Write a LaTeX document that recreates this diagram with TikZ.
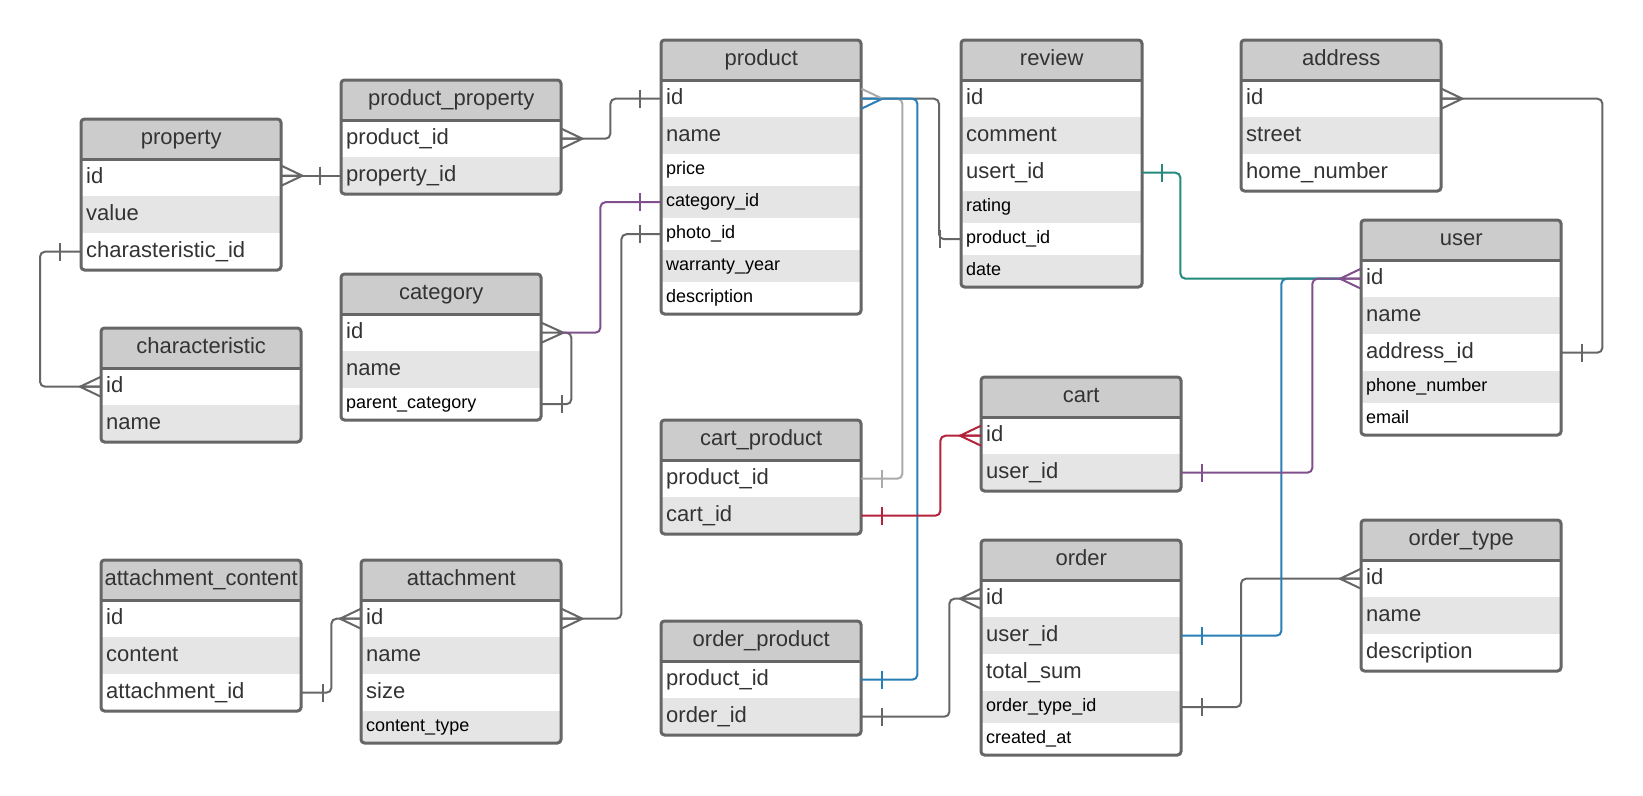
\documentclass[tikz,border=0pt]{standalone}
\usepackage{fontspec}
\setmainfont{Liberation Sans}
\usetikzlibrary{calc}
\definecolor{bordc}{HTML}{666666}
\definecolor{hdrgray}{HTML}{CCCCCC}
\definecolor{altgray}{HTML}{E5E5E5}
\definecolor{txt}{HTML}{333333}
\definecolor{cgray}{HTML}{666666}
\definecolor{clgray}{HTML}{AAAAAA}
\definecolor{cblue}{RGB}{41,126,182}
\definecolor{cteal}{RGB}{36,138,126}
\definecolor{cpurp}{RGB}{128,80,140}
\definecolor{cred}{RGB}{180,35,60}
\def\hL{37}\def\hS{32}
\def\thL{16}\def\thS{13}
\def\fL{\fontsize{22}{26}\selectfont\color{txt}}
\def\fS{\fontsize{18}{22}\selectfont\color{black}}
\newcommand\ertab[6]{%
  \pgfmathsetmacro\tw{#4-10}%
  \node[hdr, minimum width=#4pt] (#1) at (#2,#3) {#5};
  \xdef\cy{\the\numexpr#3+40\relax}%
  \foreach \rt/\rs [count=\ri] in {#6}{%
    \ifodd\ri\relax\def\rf{white}\else\def\rf{altgray}\fi
    \node[cell, fill=\rf, minimum width=#4pt, text width=\tw pt,
          minimum height=\csname h\rs\endcsname pt, font=\csname f\rs\endcsname,
          text height=\csname th\rs\endcsname pt] (#1-\ri) at (#2,\cy) {\rt};
    \xdef\cy{\the\numexpr\cy+\csname h\rs\endcsname\relax}%
  }%
  \draw[border, rounded corners=3.5pt] (#2,#3) rectangle (#2+#4,\cy);
  \draw[border] (#2,#3+40) -- (#2+#4,#3+40);
}
\newcommand\crow[3]{\draw[#3, sharp corners] (#1) ++(0,-10) -- ++(#2,10) -- ++({-1*(#2)},10) (#1) -- ++(#2,0);}
\newcommand\onebar[3]{\draw[#3, sharp corners] (#1) ++(#2,-9) -- ++(0,18);}
\begin{document}
\begin{tikzpicture}[x=1pt,y=-1pt,
  hdr/.style={anchor=north west, fill=hdrgray, minimum height=40pt, inner sep=0pt,
    text height=16pt, text depth=5pt, font=\fontsize{22}{26}\selectfont, text=txt},
  cell/.style={anchor=north west, inner xsep=5pt, inner ysep=0pt, align=left, text depth=5pt},
  border/.style={draw=bordc, line width=3pt},
  conn/.style={line width=2pt, rounded corners=5pt},
  cg/.style={conn, draw=cgray},
  clg/.style={conn, draw=clgray},
  cb/.style={conn, draw=cblue},
  ct/.style={conn, draw=cteal},
  cp/.style={conn, draw=cpurp},
  cr/.style={conn, draw=cred}]
\fill[white] (0,0) rectangle (1643,795);
\useasboundingbox (0,0) rectangle (1643,795);

% ---------- connectors (drawn below tables) ----------
% tables first so anchors exist
\ertab{property}{81}{119}{200}{property}{id/L, value/L, charasteristic\_id/L}
\ertab{pp}{341}{80}{220}{product\_property}{product\_id/L, property\_id/L}
\ertab{category}{341}{274}{200}{category}{id/L, name/L, parent\_category/S}
\ertab{characteristic}{101}{328}{200}{characteristic}{id/L, name/L}
\ertab{product}{661}{40}{200}{product}{id/L, name/L, price/S, category\_id/S, photo\_id/S, warranty\_year/S, description/S}
\ertab{review}{961}{40}{181}{review}{id/L, comment/L, usert\_id/L, rating/S, product\_id/S, date/S}
\ertab{address}{1241}{40}{200}{address}{id/L, street/L, home\_number/L}
\ertab{user}{1361}{220}{200}{user}{id/L, name/L, address\_id/L, phone\_number/S, email/S}
\ertab{cp}{661}{420}{200}{cart\_product}{product\_id/L, cart\_id/L}
\ertab{cart}{981}{377}{200}{cart}{id/L, user\_id/L}
\ertab{op}{661}{621}{200}{order\_product}{product\_id/L, order\_id/L}
\ertab{order}{981}{540}{200}{order}{id/L, user\_id/L, total\_sum/L, order\_type\_id/S, created\_at/S}
\ertab{ot}{1361}{520}{200}{order\_type}{id/L, name/L, description/L}
\ertab{ac}{101}{560}{200}{attachment\_content}{id/L, content/L, attachment\_id/L}
\ertab{attachment}{361}{560}{200}{attachment}{id/L, name/L, size/L, content\_type/S}

% property.id -- product_property.property_id
\coordinate (propId) at (property-1.east |- pp-2.west);
\draw[cg] (propId) -- (pp-2.west);
\crow{propId}{21}{cg}
\onebar{pp-2.west}{-21}{cg}

% product_property.product_id -- product.id
\draw[cg] (pp-1.east) -- ++(49,0) |- (product-1.west);
\crow{pp-1.east}{21}{cg}
\onebar{product-1.west}{-21}{cg}

% category self loop
\draw[cg] ([xshift=22pt]category-1.east) -- ++(8,0) |- (category-3.east);
\crow{category-1.east}{22}{cg}
\onebar{category-3.east}{21}{cg}

% category.id -- product.category_id
\draw[cp] ([xshift=22pt]category-1.east) -- ++(37,0) |- (product-4.west);
\onebar{product-4.west}{-21}{cp}

% property.charasteristic_id -- characteristic.id
\draw[cg] (property-3.west) -- ++(-41,0) |- (characteristic-1.west);
\onebar{property-3.west}{-21}{cg}
\crow{characteristic-1.west}{-21}{cg}

% attachment_content.attachment_id -- attachment.id
\draw[cg] (ac-3.east) -- ++(30,0) |- (attachment-1.west);
\onebar{ac-3.east}{22}{cg}
\crow{attachment-1.west}{-21}{cg}

% attachment.id -- product.photo_id
\draw[cg] (attachment-1.east) -- ++(60,0) |- (product-5.west);
\crow{attachment-1.east}{21}{cg}
\onebar{product-5.west}{-21}{cg}

% review.product_id -- product.id
\draw[cg] (review-5.west) -- ++(-22,0) |- (product-1.east);
\onebar{review-5.west}{-21}{cg}
% cart_product.product_id -- product.id
\draw[clg] (cp-1.east) -- ++(41,0) |- (product-1.east);
\onebar{cp-1.east}{21}{clg}
% order_product.product_id -- product.id
\draw[cb] (op-1.east) -- ++(56,0) |- (product-1.east);
\onebar{op-1.east}{21}{cb}
\draw[clg, sharp corners] (product-1.east) ++(0,-10) -- ++(21,10);
\draw[cb, sharp corners] (product-1.east) ++(0,10) -- ++(21,-10);

% cart_product.cart_id -- cart.id
\draw[cr] (cp-2.east) -- ++(79,0) |- (cart-1.west);
\onebar{cp-2.east}{21}{cr}
\crow{cart-1.west}{-21}{cr}

% order_product.order_id -- order.id
\draw[cg] (op-2.east) -- ++(88,0) |- (order-1.west);
\onebar{op-2.east}{21}{cg}
\crow{order-1.west}{-21}{cg}

% address.id -- user.address_id
\draw[cg] (address-1.east) -- ++(161,0) |- (user-3.east);
\crow{address-1.east}{21}{cg}
\onebar{user-3.east}{21}{cg}

% order_type.id -- order.order_type_id
\draw[cg] (ot-1.west) -- ++(-120,0) |- (order-4.east);
\crow{ot-1.west}{-21}{cg}
\onebar{order-4.east}{21}{cg}

% order.user_id -- user.id
\draw[cb] (order-2.east) -- ++(100,0) |- ([xshift=-21pt]user-1.west);
\onebar{order-2.east}{21}{cb}
% review.usert_id -- user.id
\draw[ct] (review-3.east) -- ++(38,0) |- ([xshift=-21pt]user-1.west);
\onebar{review-3.east}{20}{ct}
% cart.user_id -- user.id
\draw[cp] (cart-2.east) -- ++(131,0) |- (user-1.west);
\onebar{cart-2.east}{21}{cp}
\crow{user-1.west}{-21}{cp}
\end{tikzpicture}
\end{document}
